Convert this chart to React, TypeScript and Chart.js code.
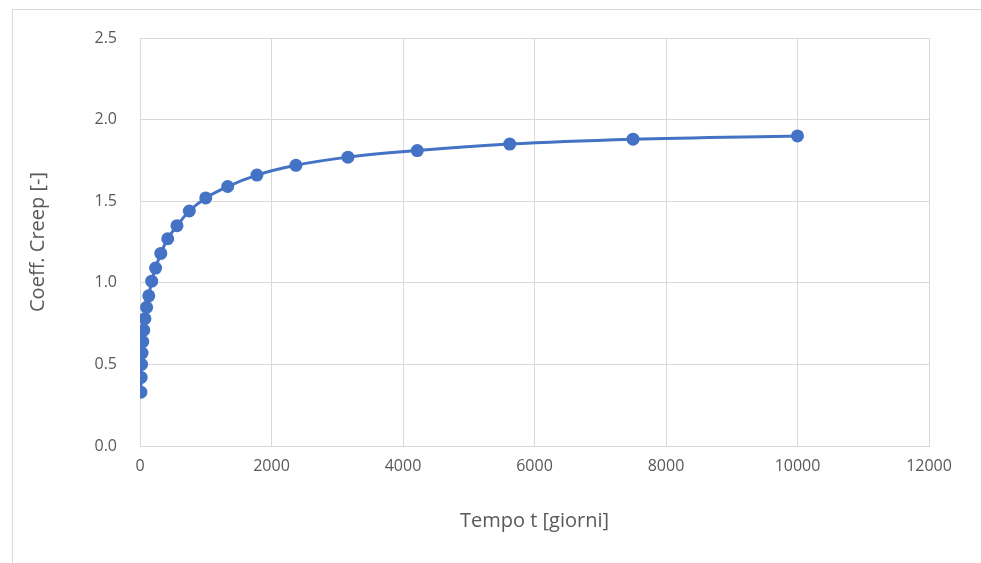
import React, { useEffect, useRef } from "react";
import { Chart, registerables } from "chart.js";

Chart.register(...registerables);

const timeDays = [
  13.34, 17.78, 23.71, 31.62, 42.17, 56.23, 74.99, 100, 133.4, 177.8, 237.1, 316.2,
  421.7, 562.3, 749.9, 1000, 1333.5, 1778.3, 2371.4, 3162.3, 4217, 5623.4, 7498.9, 10000,
];
const creepCoeff = [
  0.33, 0.42, 0.5, 0.57, 0.64, 0.71, 0.78, 0.85, 0.92, 1.01, 1.09, 1.18,
  1.27, 1.35, 1.44, 1.52, 1.59, 1.66, 1.72, 1.77, 1.81, 1.85, 1.88, 1.9,
];
const xTitle = "Tempo t [giorni]";
const yTitle = "Coeff. Creep [-]";

const FONT = "'Open Sans', 'Noto Sans', sans-serif";
const GRAY = "#595959";
const GRID = "#d9d9d9";
const BLUE = "#4472C4";

const frame = {
  id: "frame",
  beforeDraw(chart: any) {
    const ctx = chart.ctx;
    ctx.save();
    ctx.fillStyle = "#ffffff";
    ctx.fillRect(0, 0, chart.width, chart.height);
    ctx.strokeStyle = "#d9d9d9";
    ctx.lineWidth = 1;
    ctx.strokeRect(12.5, 9.5, chart.width + 20, chart.height + 20);
    ctx.restore();
  },
};

export default function App() {
  const ref = useRef<HTMLCanvasElement>(null);
  useEffect(() => {
    document.body.style.margin = "0";
    const data = timeDays.map((t, i) => ({ x: t, y: creepCoeff[i] }));
    const chart = new Chart(ref.current!, {
      type: "scatter",
      data: {
        datasets: [
          {
            data,
            showLine: true,
            borderColor: BLUE,
            backgroundColor: BLUE,
            borderWidth: 3,
            pointRadius: 6.5,
            pointBorderWidth: 0,
            cubicInterpolationMode: "monotone",
          } as any,
        ],
      },
      options: {
        animation: false,
        responsive: false,
        layout: { padding: { left: 0, top: 38, right: 52, bottom: 0 } },
        plugins: { legend: { display: false }, tooltip: { enabled: false } },
        scales: {
          x: {
            type: "linear",
            min: 0,
            max: 12000,
            ticks: {
              stepSize: 2000,
              color: GRAY,
              font: { family: FONT, size: 16 },
              padding: 11,
              maxRotation: 0,
              callback: (v: any) => String(v),
            },
            grid: { color: GRID, drawTicks: false },
            border: { color: GRID },
            title: { display: true, text: xTitle, color: GRAY, font: { family: FONT, size: 20 }, padding: { top: 0, bottom: 30 } },
            afterFit: (s: any) => { s.height = 117; },
          },
          y: {
            min: 0,
            max: 2.5,
            ticks: {
              stepSize: 0.5,
              color: GRAY,
              font: { family: FONT, size: 16 },
              padding: 23,
              callback: (v: any) => Number(v).toFixed(1),
            },
            grid: { color: GRID, drawTicks: false },
            border: { color: GRID },
            title: { display: true, text: yTitle, color: GRAY, font: { family: FONT, size: 20 }, padding: { top: 26, bottom: 0 } },
            afterFit: (s: any) => { s.width = 140; },
          },
        },
      },
      plugins: [frame],
    });
    return () => chart.destroy();
  }, []);
  return (
    <div style={{ position: "absolute", left: 0, top: 0, width: 981, height: 563 }}>
      <canvas ref={ref} width={981} height={563} style={{ display: "block" }} />
    </div>
  );
}
